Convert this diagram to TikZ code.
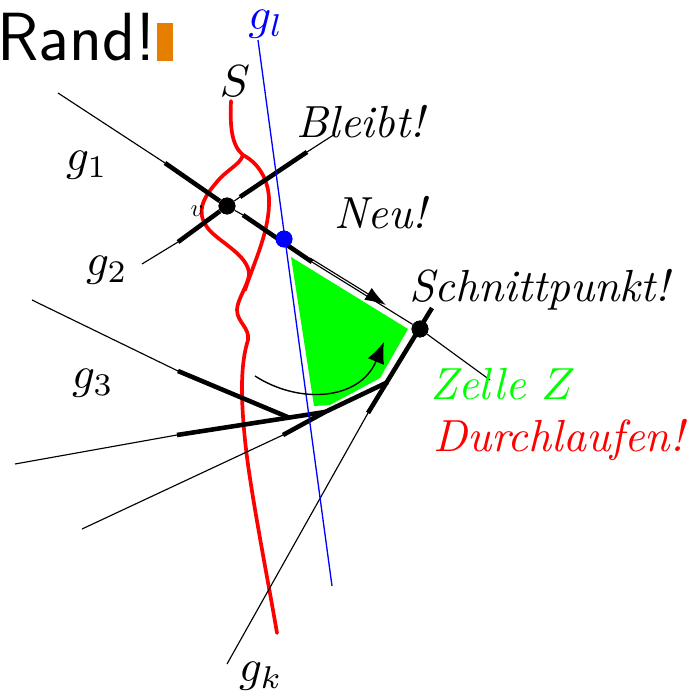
\documentclass[tikz,border=0pt]{standalone}
\usetikzlibrary{arrows.meta}
\definecolor{randorange}{HTML}{E67E00}
\tikzset{
  thinline/.style={line width=.65pt},
  thickline/.style={line width=2.6pt},
  randline/.style={red,line width=2.1pt,line cap=round},
  dotnode/.style={circle,fill=black,inner sep=0pt,minimum size=9.6pt},
  lbl/.style={scale=2.56,inner sep=0pt},
}
\begin{document}
\begin{tikzpicture}[x=.02cm,y=-.02cm]
\useasboundingbox (0,0) rectangle (689,696);
% zelle
\fill[green] (291,257)--(408,329)--(380,378)--(330,405)--(314,406)--cycle;
% endpoints of the lines
\coordinate (a1) at (58,93); \coordinate (e1) at (490,380);
\coordinate (a2) at (142,264); \coordinate (e2) at (335,134);
\coordinate (a3) at (32,300); \coordinate (e3) at (290,418);
\coordinate (a4) at (15,464); \coordinate (e4) at (325,412);
\coordinate (a5) at (82,529); \coordinate (e5) at (388,382);
\coordinate (ak) at (227,664); \coordinate (ek) at (432,308);
\coordinate (top) at (258,40); \coordinate (bot) at (332,586);
% the vertices
\node[dotnode] (v) at (227,206) {};
\node[dotnode,fill=blue] (neu) at (284,239) {};
\node[dotnode] (schnitt) at (420,329) {};
% thick parts
\coordinate (t1) at (165,163); \coordinate (t2) at (243,215); \coordinate (t3) at (312,262);
\coordinate (t4) at (178,242); \coordinate (t5) at (240,197); \coordinate (t6) at (307,152);
\coordinate (t7) at (178,371); \coordinate (t8) at (177,435); \coordinate (t9) at (283,435);
\coordinate (t10) at (368,413);
% red border
\draw[randline] (231,101) .. controls (230,125) and (231,145) .. (243,155)
  .. controls (262,165) and (270,185) .. (269,205) .. controls (268,235) and (253,265) .. (245,290);
\draw[randline] (243,155) .. controls (240,165) and (226,170) .. (216,183)
  .. controls (203,198) and (196,212) .. (207,227) .. controls (215,240) and (250,255) .. (249,275)
  .. controls (248,285) and (237,300) .. (237,310) .. controls (237,322) and (250,328) .. (248,340)
  .. controls (240,365) and (241,400) .. (245,440) .. controls (250,490) and (268,580) .. (277,633);
% lines
\draw[thinline] (a1)--(t1); \draw[thinline] (v)--(t2); \draw[thinline] (t3)--(schnitt)--(e1);
\draw[thinline] (a2)--(t4); \draw[thinline] (v)--(t5); \draw[thinline] (t6)--(e2);
\draw[thinline] (a3)--(t7); \draw[thinline] (a4)--(t8); \draw[thinline] (a5)--(t9); \draw[thinline] (ak)--(t10);
\draw[thickline] (t1)--(v); \draw[thickline] (t2)--(t3);
\draw[thickline] (t4)--(v); \draw[thickline] (t5)--(t6);
\draw[thickline] (t7)--(e3); \draw[thickline] (t8)--(e4);
\draw[thickline] (t9)--(e4)--(e5); \draw[thickline] (t10)--(ek);
\draw[blue,line width=.75pt] (top)--(bot);
% arrows
\coordinate (p1) at (310,258); \coordinate (p2) at (386,305);
\coordinate (c1) at (255,376); \coordinate (c2) at (384,342);
\draw[thinline,-{Latex[length=12pt,width=8pt]}] (p1)--(p2);
\draw[line width=.8pt,-{Latex[length=12pt,width=10pt]}] (c1) .. controls (300,405) and (360,400) .. (c2);
% redraw dots on top
\node[dotnode] at (v) {}; \node[dotnode,fill=blue] at (neu) {}; \node[dotnode] at (schnitt) {};
% labels
\node[anchor=base west,inner sep=0pt,font=\sffamily\fontsize{38.8}{44}\selectfont] (rand) at (-3,61) {Rand!};
\node[fill=randorange,inner sep=0pt,minimum width=9pt,minimum height=21.5pt,anchor=south west] (cursor) at (157,61) {};
\node[lbl] (lS) at (235,81) {$S$};
\node[lbl,text=blue] (lgl) at (266,24) {$g_l$};
\node[lbl] (lb) at (362,122) {\textit{Bleibt!}};
\node[lbl] (lg1) at (87,165) {$g_1$};
\node[lbl] (ln) at (382,213) {\textit{Neu!}};
\node[lbl] (lg2) at (107,270) {$g_2$};
\node[lbl] (lschnitt) at (541,290) {\textit{Schnittpunkt!}};
\node[lbl] (lg3) at (93,383) {$g_3$};
\node[lbl,text=green] (lz) at (503,384) {\textit{Zelle} $Z$};
\node[lbl,text=red] (ld) at (560,440) {\textit{Durchlaufen!}};
\node[lbl] (lgk) at (261,676) {$g_k$};
\node[inner sep=0pt,scale=1.4] (lv) at (197,211) {$v$};
\end{tikzpicture}
\end{document}
